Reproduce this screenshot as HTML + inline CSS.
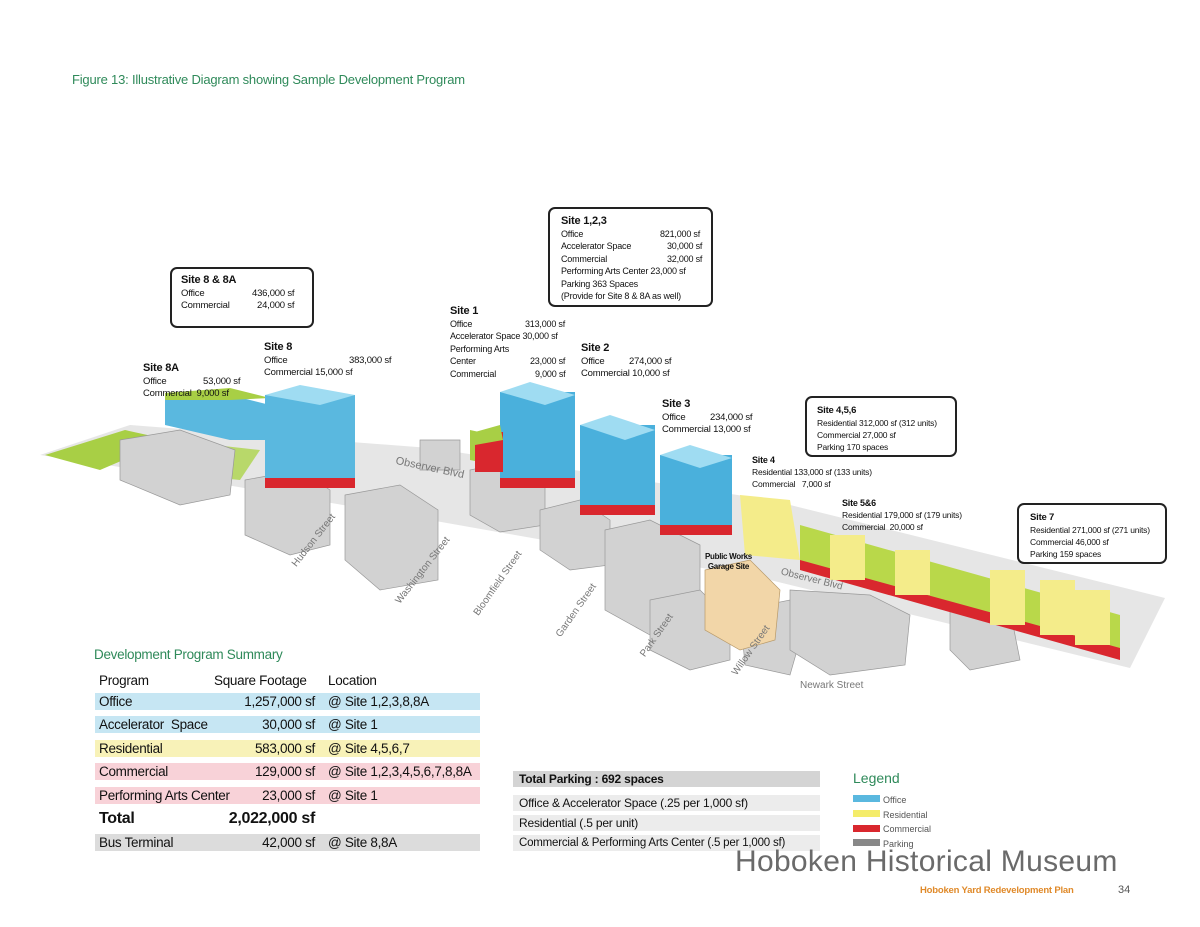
<!DOCTYPE html>
<html><head><meta charset="utf-8"><style>
body{margin:0;background:#fff;}
#p{position:relative;width:1200px;height:927px;overflow:hidden;font-family:"Liberation Sans",sans-serif;color:#111;}
.a{position:absolute;white-space:nowrap;}
.box{position:absolute;border:2px solid #222;border-radius:7px;background:#fff;white-space:nowrap;}
.s{font-size:9.5px;line-height:12.5px;letter-spacing:-0.2px;}
.s b{font-size:11px;}
.row{position:absolute;left:95px;width:385px;height:17px;font-size:13.5px;line-height:17px;letter-spacing:-0.3px;white-space:nowrap;}
.row span{position:absolute;top:0;white-space:nowrap;}
.pr{position:absolute;left:513px;width:307px;height:16px;font-size:12px;line-height:16px;letter-spacing:-0.2px;background:#ececec;white-space:nowrap;}
</style></head><body><div id="p">
<div class="a" style="left:72px;top:72px;font-size:13px;color:#2f8a5a;letter-spacing:-0.2px;">Figure 13: Illustrative Diagram showing Sample Development Program</div>

<svg class="a" style="left:0;top:0" width="1200" height="927">
<polygon points="40,455 130,425 430,448 770,500 1165,598 1130,668 770,580 430,520 140,470" fill="#e6e6e6"/>
<polygon points="45,455 125,430 170,440 100,470" fill="#a8cf45"/>
<polygon points="170,440 260,450 240,480 140,470" fill="#b8d86a"/>
<polygon points="470,430 540,445 520,470 470,460" fill="#a8cf45"/>
<g fill="#d2d2d2" stroke="#999" stroke-width="0.7">
<polygon points="120,440 180,430 235,450 230,495 180,505 120,480"/>
<polygon points="245,480 300,470 330,490 330,545 290,555 245,535"/>
<polygon points="345,495 400,485 438,510 438,580 380,590 345,560"/>
<polygon points="470,470 520,460 545,480 545,525 500,532 470,515"/>
<polygon points="540,510 580,500 610,520 610,565 570,570 540,550"/>
<polygon points="605,530 650,520 700,545 700,620 650,635 605,610"/>
<polygon points="650,600 700,590 730,620 730,660 690,670 650,650"/>
<polygon points="740,610 790,600 800,640 790,675 745,665"/>
<polygon points="790,590 870,595 910,615 905,665 830,675 790,650"/>
<polygon points="950,605 1010,610 1020,660 970,670 950,650"/>
<polygon points="420,440 460,440 460,470 420,470"/>
</g>
<polygon points="705,570 750,560 780,590 775,640 740,650 705,630" fill="#f2d6a8" stroke="#b89a6a" stroke-width="0.7"/>
<polygon points="165,400 230,395 270,405 270,440 230,440 165,425" fill="#5ab8df"/>
<polygon points="165,393 230,388 270,398 230,400 165,400" fill="#a8cf45"/>
<rect x="265" y="395" width="90" height="85" fill="#5ab8df"/>
<polygon points="265,395 300,385 355,395 320,405" fill="#9fdcf2"/>
<rect x="265" y="478" width="90" height="10" fill="#d9272e"/>
<rect x="500" y="392" width="75" height="88" fill="#4ab0dc"/>
<polygon points="500,392 530,382 575,395 545,405" fill="#9fdcf2"/>
<rect x="475" y="432" width="28" height="40" fill="#d9272e"/>
<polygon points="475,432 500,425 503,440 475,445" fill="#a8cf45"/>
<rect x="500" y="478" width="75" height="10" fill="#d9272e"/>
<rect x="580" y="425" width="75" height="85" fill="#4ab0dc"/>
<polygon points="580,425 610,415 655,430 625,440" fill="#9fdcf2"/>
<rect x="580" y="505" width="75" height="10" fill="#d9272e"/>
<rect x="660" y="455" width="72" height="75" fill="#4ab0dc"/>
<polygon points="660,455 690,445 732,458 700,468" fill="#9fdcf2"/>
<rect x="660" y="525" width="72" height="10" fill="#d9272e"/>
<g>
<polygon points="740,495 790,500 800,560 745,555" fill="#f4ec8a"/>
<polygon points="800,525 1120,615 1120,650 800,565" fill="#b9d84a"/>
<polygon points="800,560 1120,648 1120,660 800,570" fill="#d9272e"/>
<rect x="830" y="535" width="35" height="45" fill="#f4ec8a"/>
<rect x="895" y="550" width="35" height="45" fill="#f4ec8a"/>
<rect x="990" y="570" width="35" height="55" fill="#f4ec8a"/>
<rect x="1040" y="580" width="35" height="55" fill="#f4ec8a"/>
<rect x="1075" y="590" width="35" height="55" fill="#f4ec8a"/>
</g>
</svg>

<div class="box s" style="left:170px;top:267px;width:144px;height:61px;padding:5px 0 0 9px;box-sizing:border-box;"><b>Site 8 &amp; 8A</b><br>Office<span style="position:absolute;left:80px">436,000 sf</span><br>Commercial<span style="position:absolute;left:85px">24,000 sf</span></div>
<div class="box s" style="left:548px;top:207px;width:165px;height:100px;padding:6px 0 0 11px;box-sizing:border-box;font-size:9px;line-height:12.5px;"><b>Site 1,2,3</b><br>Office<span style="position:absolute;left:110px">821,000 sf</span><br>Accelerator Space<span style="position:absolute;left:117px">30,000 sf</span><br>Commercial<span style="position:absolute;left:117px">32,000 sf</span><br>Performing Arts Center 23,000 sf<br>Parking 363 Spaces<br>(Provide for Site 8 &amp; 8A as well)</div>
<div class="box s" style="left:805px;top:396px;width:152px;height:61px;padding:6px 0 0 10px;box-sizing:border-box;font-size:8.5px;line-height:12px;"><b style="font-size:9.5px">Site 4,5,6</b><br>Residential 312,000 sf (312 units)<br>Commercial 27,000 sf<br>Parking 170 spaces</div>
<div class="box s" style="left:1017px;top:503px;width:150px;height:61px;padding:6px 0 0 11px;box-sizing:border-box;font-size:8.5px;line-height:12px;"><b style="font-size:9.5px">Site 7</b><br>Residential 271,000 sf (271 units)<br>Commercial 46,000 sf<br>Parking 159 spaces</div>

<div class="a s" style="left:143px;top:362px;"><b>Site 8A</b><br>Office<span style="position:absolute;left:60px">53,000 sf</span><br>Commercial&nbsp; 9,000 sf</div>
<div class="a s" style="left:264px;top:341px;"><b>Site 8</b><br>Office<span style="position:absolute;left:85px">383,000 sf</span><br>Commercial 15,000 sf</div>
<div class="a s" style="left:450px;top:305px;font-size:9px;"><b>Site 1</b><br>Office<span style="position:absolute;left:75px">313,000 sf</span><br>Accelerator Space 30,000 sf<br>Performing Arts<br>Center<span style="position:absolute;left:80px">23,000 sf</span><br>Commercial<span style="position:absolute;left:85px">9,000 sf</span></div>
<div class="a s" style="left:581px;top:342px;"><b>Site 2</b><br>Office<span style="position:absolute;left:48px">274,000 sf</span><br>Commercial 10,000 sf</div>
<div class="a s" style="left:662px;top:398px;"><b>Site 3</b><br>Office<span style="position:absolute;left:48px">234,000 sf</span><br>Commercial 13,000 sf</div>
<div class="a s" style="left:752px;top:454px;font-size:8.5px;line-height:12px;"><b style="font-size:9px">Site 4</b><br>Residential 133,000 sf (133 units)<br>Commercial&nbsp;&nbsp; 7,000 sf</div>
<div class="a s" style="left:842px;top:497px;font-size:8.5px;line-height:12px;"><b style="font-size:9px">Site 5&amp;6</b><br>Residential 179,000 sf (179 units)<br>Commercial&nbsp; 20,000 sf</div>
<div class="a" style="left:705px;top:552px;font-size:8px;font-weight:bold;line-height:10px;text-align:center;letter-spacing:-0.3px;">Public Works<br>Garage Site</div>

<div class="a" style="left:395px;top:462px;font-size:11px;color:#777;transform:rotate(12deg);">Observer Blvd</div>
<div class="a" style="left:780px;top:574px;font-size:10px;color:#777;transform:rotate(14deg);">Observer Blvd</div>
<div class="a" style="left:282px;top:535px;font-size:10px;color:#777;transform:rotate(-52deg);">Hudson Street</div>
<div class="a" style="left:382px;top:565px;font-size:10px;color:#777;transform:rotate(-52deg);">Washington Street</div>
<div class="a" style="left:460px;top:578px;font-size:10px;color:#777;transform:rotate(-55deg);">Bloomfield Street</div>
<div class="a" style="left:545px;top:605px;font-size:10px;color:#777;transform:rotate(-55deg);">Garden Street</div>
<div class="a" style="left:632px;top:630px;font-size:10px;color:#777;transform:rotate(-55deg);">Park Street</div>
<div class="a" style="left:722px;top:645px;font-size:10px;color:#777;transform:rotate(-55deg);">Willow Street</div>
<div class="a" style="left:800px;top:680px;font-size:10px;color:#777;">Newark Street</div>

<div class="a" style="left:94px;top:647px;font-size:13.5px;color:#2f8a5a;letter-spacing:-0.3px;">Development Program Summary</div>
<div class="row" style="top:672px;"><span style="left:4px">Program</span><span style="left:119px">Square Footage</span><span style="left:233px">Location</span></div>
<div class="row" style="top:693px;background:#c6e6f3;"><span style="left:4px">Office</span><span style="right:165px">1,257,000 sf</span><span style="left:233px">@ Site 1,2,3,8,8A</span></div>
<div class="row" style="top:716px;background:#c6e6f3;"><span style="left:4px">Accelerator&nbsp; Space</span><span style="right:165px">30,000 sf</span><span style="left:233px">@ Site 1</span></div>
<div class="row" style="top:740px;background:#f8f2b8;"><span style="left:4px">Residential</span><span style="right:165px">583,000 sf</span><span style="left:233px">@ Site 4,5,6,7</span></div>
<div class="row" style="top:763px;background:#f8d2d8;"><span style="left:4px">Commercial</span><span style="right:165px">129,000 sf</span><span style="left:233px">@ Site 1,2,3,4,5,6,7,8,8A</span></div>
<div class="row" style="top:787px;background:#f8d2d8;"><span style="left:4px">Performing Arts Center</span><span style="right:165px">23,000 sf</span><span style="left:233px">@ Site 1</span></div>
<div class="row" style="top:809px;font-weight:bold;font-size:16px;line-height:19px;"><span style="left:4px">Total</span><span style="right:165px">2,022,000 sf</span></div>
<div class="row" style="top:834px;background:#dcdcdc;"><span style="left:4px">Bus Terminal</span><span style="right:165px">42,000 sf</span><span style="left:233px">@ Site 8,8A</span></div>

<div class="pr" style="top:771px;background:#d4d4d4;font-weight:bold;padding-left:6px;box-sizing:border-box;">Total Parking : 692 spaces</div>
<div class="pr" style="top:795px;padding-left:6px;box-sizing:border-box;">Office &amp; Accelerator Space (.25 per 1,000 sf)</div>
<div class="pr" style="top:815px;padding-left:6px;box-sizing:border-box;">Residential (.5 per unit)</div>
<div class="pr" style="top:835px;padding-left:6px;box-sizing:border-box;font-size:11.5px;">Commercial &amp; Performing Arts Center (.5 per 1,000 sf)</div>

<div class="a" style="left:853px;top:770px;font-size:14px;color:#2f8a5a;">Legend</div>
<div class="a" style="left:853px;top:795px;width:27px;height:7px;background:#5ab8df"></div>
<div class="a" style="left:853px;top:810px;width:27px;height:7px;background:#f4ec6a"></div>
<div class="a" style="left:853px;top:825px;width:27px;height:7px;background:#d9272e"></div>
<div class="a" style="left:853px;top:839px;width:27px;height:7px;background:#888"></div>
<div class="a" style="left:883px;top:793px;font-size:9px;color:#555;line-height:14.5px;">Office<br>Residential<br>Commercial<br>Parking</div>

<div class="a" style="left:735px;top:845px;font-size:30px;color:#6a6a6a;letter-spacing:0.3px;">Hoboken Historical Museum</div>
<div class="a" style="left:920px;top:885px;font-size:9.5px;font-weight:bold;color:#e08a2a;letter-spacing:-0.2px;">Hoboken Yard Redevelopment Plan</div>
<div class="a" style="left:1118px;top:884px;font-size:11px;color:#555;">34</div>
</div></body></html>
